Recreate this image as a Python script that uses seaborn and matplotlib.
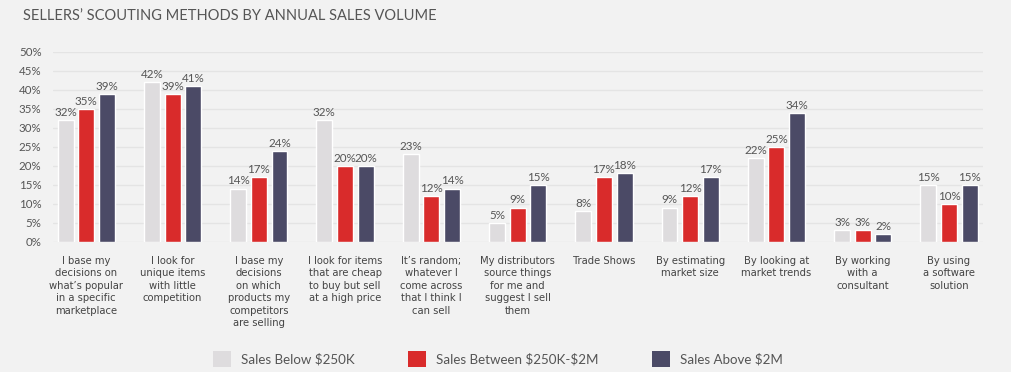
import matplotlib
matplotlib.use("Agg")
import matplotlib.pyplot as plt
import seaborn as sns
import pandas as pd
import numpy as np
from matplotlib import font_manager as fm

categories = [
    "I base my\ndecisions on\nwhat\u2019s popular\nin a specific\nmarketplace",
    "I look for\nunique items\nwith little\ncompetition",
    "I base my\ndecisions\non which\nproducts my\ncompetitors\nare selling",
    "I look for items\nthat are cheap\nto buy but sell\nat a high price",
    "It\u2019s random;\nwhatever I\ncome across\nthat I think I\ncan sell",
    "My distributors\nsource things\nfor me and\nsuggest I sell\nthem",
    "Trade Shows",
    "By estimating\nmarket size",
    "By looking at\nmarket trends",
    "By working\nwith a\nconsultant",
    "By using\na software\nsolution",
]
series_names = ["Sales Below $250K", "Sales Between $250K-$2M", "Sales Above $2M"]
below_250k = [32, 42, 14, 32, 23, 5, 8, 9, 22, 3, 15]
between_250k_2m = [35, 39, 17, 20, 12, 9, 17, 12, 25, 3, 10]
above_2m = [39, 41, 24, 20, 14, 15, 18, 17, 34, 2, 15]
y_ticks = [0, 5, 10, 15, 20, 25, 30, 35, 40, 45, 50]
title = "SELLERS\u2019 SCOUTING METHODS BY ANNUAL SALES VOLUME"

colors = ["#dedcde", "#d92b2b", "#4b4a66"]
bg = "#f2f2f2"
txt = "#555555"

df = pd.DataFrame({
    "category": categories * 3,
    "series": [series_names[0]] * 11 + [series_names[1]] * 11 + [series_names[2]] * 11,
    "value": below_250k + between_250k_2m + above_2m,
})

sns.set_theme(style="white")
plt.rcParams["font.family"] = ["Lato", "DejaVu Sans"]

# condensed face for category labels if available
cond_font = None
for f in fm.fontManager.ttflist:
    if "Narrow" in f.name or "Condensed" in f.name or (f.stretch in ("condensed", "semi-condensed", 87.5, 75) and "Sans" in f.name):
        if f.style == "normal" and f.weight in (400, "normal", "regular"):
            cond_font = f.fname
            break

fig = plt.figure(figsize=(10.12, 3.72), dpi=100, facecolor=bg)
ax = fig.add_axes([0.052, 0.3503, 0.919, 0.510])
ax.set_facecolor(bg)

sns.barplot(data=df, x="category", y="value", hue="series", order=categories,
            hue_order=series_names, palette=colors, width=0.72, gap=0.23,
            saturation=1, ax=ax, legend=True)

ax.set_ylim(0, 50)
ax.set_xlim(-0.39, 10.39)
ax.set_yticks(y_ticks)
ax.set_yticklabels([f"{t}%" for t in y_ticks], color=txt, fontsize=8.3)
ax.yaxis.grid(True, color="#e4e4e4", linewidth=1)
ax.set_axisbelow(True)
for s in ax.spines.values():
    s.set_visible(False)
ax.tick_params(axis="y", length=0, pad=8)
ax.tick_params(axis="x", length=0, pad=10)
ax.set_xlabel("")
ax.set_ylabel("")
ax.set_xticks(range(len(categories)))
if cond_font:
    fp = fm.FontProperties(fname=cond_font, size=8)
    ax.set_xticklabels(categories, fontproperties=fp, color="#444444", linespacing=1.32, va="top")
else:
    ax.set_xticklabels(categories, fontsize=7.5, color="#444444", linespacing=1.35,
                       family="Liberation Sans", va="top")

for cont in ax.containers:
    ax.bar_label(cont, labels=[f"{v:.0f}%" for v in cont.datavalues],
                 padding=1.5, fontsize=8.4, color=txt)

ax.get_legend().remove()
handles = [plt.Rectangle((0, 0), 1, 1, facecolor=c, edgecolor="none") for c in colors]
legend_labels = [s.replace("$", r"\$") for s in series_names]
fig.legend(handles, legend_labels, loc="center", bbox_to_anchor=(0.492, 0.034),
           ncol=3, frameon=False, fontsize=9.6, handlelength=1.35, handleheight=1.5,
           handletextpad=0.75, columnspacing=4.0, labelcolor=txt)

fig.text(0.023, 0.957, title, fontsize=10.5, color=txt, ha="left", va="center")

fig.savefig("out.png", dpi=100, facecolor=bg)
